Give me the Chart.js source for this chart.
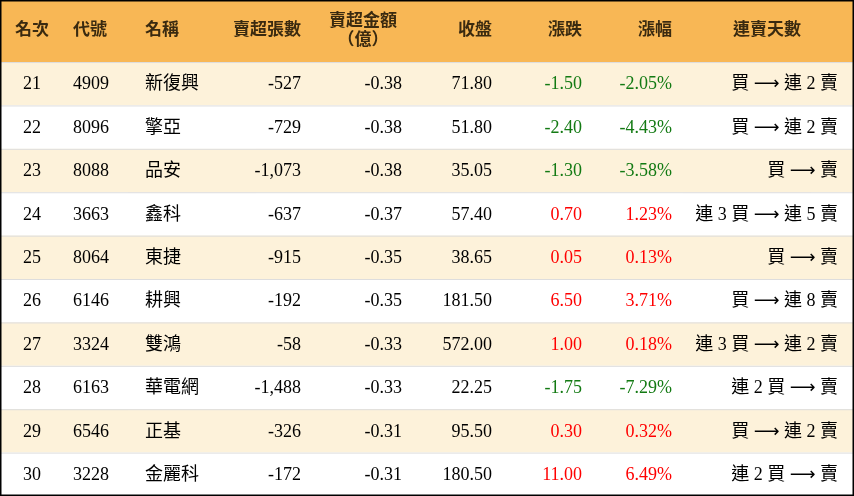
<!DOCTYPE html>
<html><head><meta charset="utf-8">
<script src="https://cdn.jsdelivr.net/npm/chart.js@4/dist/chart.umd.min.js"></script>
<style>html,body{margin:0;padding:0;background:#fff}#w{width:854px;height:496px}</style>
</head><body><div id="w"><canvas id="c"></canvas></div>
<script>
const headers = ['名次','代號','名稱','賣超張數','賣超金額\n（億）','收盤','漲跌','漲幅','連賣天數'];
const ranks = [21,22,23,24,25,26,27,28,29,30];
const codes = ['4909','8096','8088','3663','8064','6146','3324','6163','6546','3228'];
const names = ['新復興','擎亞','品安','鑫科','東捷','耕興','雙鴻','華電網','正基','金麗科'];
const netShares = [-527,-729,-1073,-637,-915,-192,-58,-1488,-326,-172];
const netAmount = [-0.38,-0.38,-0.38,-0.37,-0.35,-0.35,-0.33,-0.33,-0.31,-0.31];
const closes = [71.80,51.80,35.05,57.40,38.65,181.50,572.00,22.25,95.50,180.50];
const changes = [-1.50,-2.40,-1.30,0.70,0.05,6.50,1.00,-1.75,0.30,11.00];
const pcts = [-2.05,-4.43,-3.58,1.23,0.13,3.71,0.18,-7.29,0.32,6.49];
const streaks = ['買 → 連 2 賣','買 → 連 2 賣','買 → 賣','連 3 買 → 連 5 賣','買 → 賣','買 → 連 8 賣','連 3 買 → 連 2 賣','連 2 買 → 賣','買 → 連 2 賣','連 2 買 → 賣'];

const cols = [[32,'center'],[73,'left'],[145,'left'],[301,'right'],[402,'right'],[492,'right'],[582,'right'],[672,'right'],[838,'right']];
const headAnchors = [[32,'center'],[73,'left'],[145,'left'],[301,'right'],[363,'center'],[492,'right'],[582,'right'],[672,'right'],[767,'center']];
const fmt = (v,d)=>v.toLocaleString('en-US',{minimumFractionDigits:d,maximumFractionDigits:d});
const serif = '"Liberation Serif","Noto Sans CJK TC",serif';

function drawRightRich(c, text, xr, cy){
  // arrow drawn in a wider font, rest in serif
  const parts = text.split('→');
  const fN='18px '+serif, fA='18px "DejaVu Sans"';
  const seg=[];
  parts.forEach((p,k)=>{ seg.push([p,fN]); if(k<parts.length-1) seg.push(['⟶',fA]); });
  let w=0; seg.forEach(s=>{c.font=s[1]; w+=c.measureText(s[0]).width;});
  let x=xr-w; c.textAlign='left';
  seg.forEach(s=>{c.font=s[1]; c.fillText(s[0],x,cy); x+=c.measureText(s[0]).width;});
}

const tablePlugin = {
  id:'table',
  afterDraw(ch){
    const c = ch.ctx, x = ch.scales.x, y = ch.scales.y;
    const X = v=>x.getPixelForValue(v), Y = v=>y.getPixelForValue(v);
    c.save();
    c.fillStyle='#F8B755'; c.fillRect(X(0),Y(-1.43),X(854)-X(0),Y(0)-Y(-1.43));
    for(let i=0;i<ranks.length;i++){
      c.fillStyle = i%2===0 ? '#FDF2DA' : '#FFFFFF';
      c.fillRect(X(0),Y(i),X(854)-X(0),Y(i+1)-Y(i));
      c.strokeStyle='#dddddd'; c.lineWidth=1;
      c.beginPath(); c.moveTo(X(0),Y(i)+0.5); c.lineTo(X(854),Y(i)+0.5); c.stroke();
    }
    c.textBaseline='middle';
    c.font='bold 17px '+serif; c.fillStyle='#3a2a10';
    headers.forEach((h,j)=>{
      c.textAlign=headAnchors[j][1];
      const lines=h.split('\n'); const cy=Y(-0.715);
      lines.forEach((ln,k)=>c.fillText(ln,X(headAnchors[j][0]),cy+(k-(lines.length-1)/2)*19));
    });
    for(let i=0;i<ranks.length;i++){
      const cy=(Y(i)+Y(i+1))/2+1;
      const col = changes[i]<0?'#137A13':'#FF0000';
      const vals=[[String(ranks[i]),'#000'],[codes[i],'#000'],[names[i],'#000'],[fmt(netShares[i],0),'#000'],[fmt(netAmount[i],2),'#000'],[fmt(closes[i],2),'#000'],[fmt(changes[i],2),col],[fmt(pcts[i],2)+'%',col]];
      c.font='18px '+serif;
      vals.forEach((v,j)=>{c.textAlign=cols[j][1]; c.fillStyle=v[1]; c.fillText(v[0],X(cols[j][0]),cy);});
      c.fillStyle='#000';
      drawRightRich(c, streaks[i], X(cols[8][0]), cy);
    }
    c.strokeStyle='#000'; c.lineWidth=1.5;
    c.strokeRect(X(0)+0.75,Y(-1.43)+0.75,X(854)-X(0)-1.5,Y(10)-Y(-1.43)-1.5);
    c.restore();
  }
};

new Chart(document.getElementById('c'),{
  type:'scatter',
  data:{datasets:[{data:[],pointRadius:0}]},
  options:{responsive:true,maintainAspectRatio:false,animation:false,
    layout:{padding:0},
    plugins:{legend:{display:false},tooltip:{enabled:false}},
    scales:{
      x:{type:'linear',min:0,max:854,display:false},
      y:{type:'linear',min:-1.43,max:10,reverse:true,display:false}
    }},
  plugins:[tablePlugin]
});
</script></body></html>
